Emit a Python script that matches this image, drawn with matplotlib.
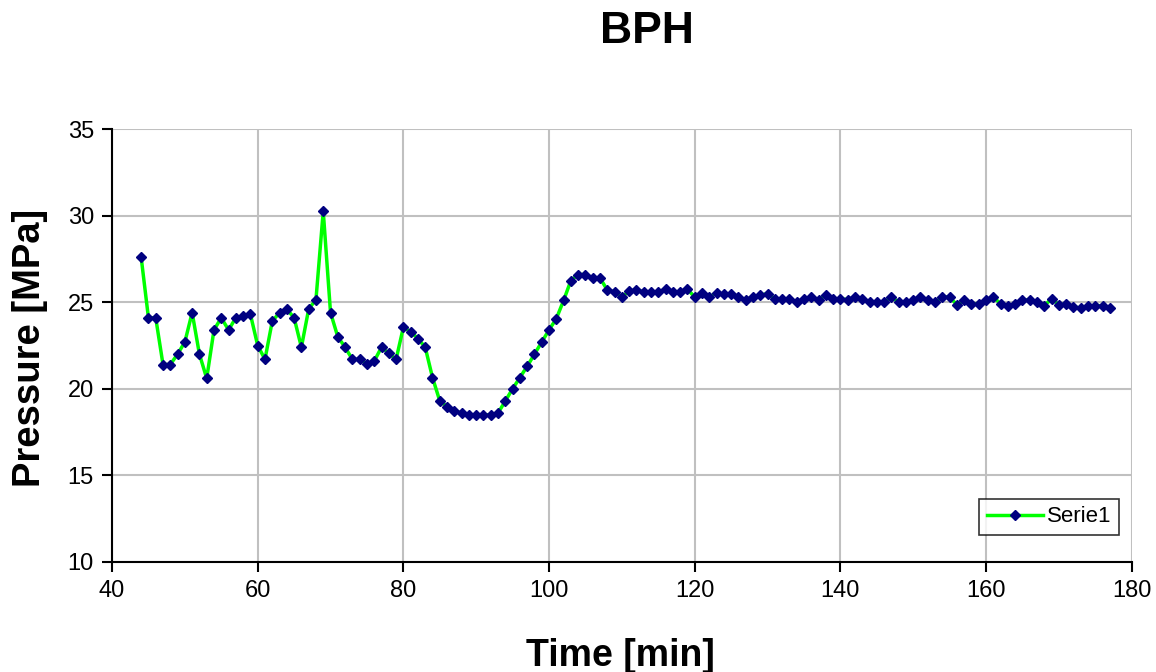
import numpy as np
import matplotlib
matplotlib.use('Agg')
import matplotlib.pyplot as plt

plt.rcParams['font.family'] = ['Liberation Sans', 'DejaVu Sans']

# time in minutes, one sample per minute
time_min = list(range(44, 178))
pressure = [
    27.6, 24.1, 24.1, 21.4, 21.4, 22.0, 22.7, 24.4, 22.0, 20.6,   # 44-53
    23.4, 24.1, 23.4, 24.1, 24.2, 24.3, 22.5, 21.7, 23.9, 24.4,   # 54-63
    24.6, 24.1, 22.4, 24.6, 25.15, 30.25, 24.4, 23.0, 22.4, 21.7,  # 64-73
    21.7, 21.45, 21.6, 22.4, 22.05, 21.7, 23.55, 23.3, 22.9, 22.4,  # 74-83
    20.65, 19.3, 18.97, 18.7, 18.6, 18.5, 18.5, 18.5, 18.5, 18.6,  # 84-93
    19.3, 20.0, 20.65, 21.3, 22.0, 22.7, 23.4, 24.05, 25.1, 26.25,  # 94-103
    26.6, 26.6, 26.4, 26.4, 25.7, 25.6, 25.3, 25.65, 25.7, 25.6,   # 104-113
    25.6, 25.6, 25.75, 25.6, 25.6, 25.75, 25.3, 25.55, 25.3, 25.55,  # 114-123
    25.45, 25.45, 25.3, 25.15, 25.3, 25.4, 25.5, 25.2, 25.2, 25.2,  # 124-133
    25.0, 25.2, 25.3, 25.15, 25.4, 25.2, 25.2, 25.15, 25.3, 25.2,  # 134-143
    25.0, 25.0, 25.0, 25.3, 25.0, 25.0, 25.15, 25.3, 25.15, 25.0,  # 144-153
    25.3, 25.3, 24.85, 25.1, 24.9, 24.9, 25.15, 25.3, 24.9, 24.8,  # 154-163
    24.9, 25.1, 25.15, 25.0, 24.8, 25.2, 24.85, 24.9, 24.75, 24.65,  # 164-173
    24.8, 24.8, 24.8, 24.65,                                       # 174-177
]

x_ticks = list(range(40, 181, 20))
y_ticks = list(range(10, 36, 5))

fig = plt.figure(figsize=(11.56, 6.72), dpi=100)
ax = fig.add_axes([0.0969, 0.1637, 0.979 - 0.0969, 0.808 - 0.1637])

ax.plot(time_min, pressure, color='#00FF00', lw=2.5, marker='D', ms=5,
        mfc='#000080', mec='#000080', label='Serie1')

ax.set_xlim(40, 180)
ax.set_ylim(10, 35)
ax.set_xticks(x_ticks)
ax.set_yticks(y_ticks)
ax.grid(True, color='#C0C0C0', lw=1.5)
ax.set_axisbelow(True)
for s in ['top', 'right']:
    ax.spines[s].set_visible(False)
for s in ['left', 'bottom']:
    ax.spines[s].set_linewidth(1.5)
ax.tick_params(direction='out', length=7, width=1.5, labelsize=17, pad=6)

leg = ax.legend(loc='lower right', bbox_to_anchor=(0.988, 0.062), fontsize=16,
                frameon=True, fancybox=False, borderpad=0.35, handlelength=2.5,
                handletextpad=0.2, borderaxespad=0.0)
leg.get_frame().set_edgecolor('black')
leg.get_frame().set_linewidth(1.2)

fig.text(0.56, 0.953, 'BPH', ha='center', va='center', fontsize=32, fontweight='bold')
fig.text(0.537, 0.024, 'Time [min]', ha='center', va='center', fontsize=27, fontweight='bold')
fig.text(0.026, 0.482, 'Pressure [MPa]', ha='center', va='center', rotation=90,
         fontsize=27.5, fontweight='bold')

fig.savefig('out.png', dpi=100)
